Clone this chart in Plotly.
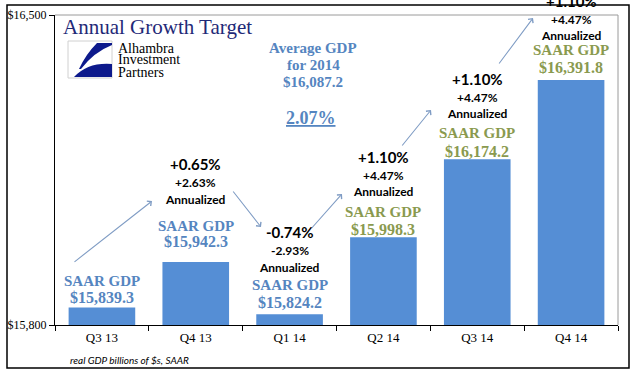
import plotly.graph_objects as go

# ---- data ----
quarters = ["Q3 13", "Q4 13", "Q1 14", "Q2 14", "Q3 14", "Q4 14"]
bar_values = [15839.3, 15942.3, 15824.2, 15998.3, 16174.2, 16353.0]   # bar heights as drawn
saar_labels = ["$15,839.3", "$15,942.3", "$15,824.2", "$15,998.3", "$16,174.2", "$16,391.8"]
qoq_change = [None, "+0.65%", "-0.74%", "+1.10%", "+1.10%", "+1.10%"]
annualized = [None, "+2.63%", "-2.93%", "+4.47%", "+4.47%", "+4.47%"]
y_ticks = [15800, 16500]
y_tick_labels = ["$15,800", "$16,500"]
avg_gdp_2014 = "$16,087.2"
avg_growth = "2.07%"

W, H = 640, 374
L, R, T, B = 55, 22, 15, 49
PW, PH = W - L - R, H - T - B


def px(x):
    return (x - L) / PW


def py(y):
    return (H - B - y) / PH


BLUE = "#5585c0"
GREEN = "#8a9a4f"
BAR = "#558ed5"
NAVY = "#1f2a78"
ARROW = "#7f9cc4"
SERIF = "Liberation Serif, Times New Roman, serif"
SANS = "Lato, Liberation Sans, sans-serif"

fig = go.Figure(go.Bar(x=quarters, y=bar_values, marker_color=BAR,
                       marker_line_width=0, hoverinfo="skip"))

ann = []


def text(x, y, s, size, color="black", font=SERIF, xref="paper", xanchor="center"):
    ann.append(dict(x=x, y=py(y), xref=xref, yref="paper", text=s, showarrow=False,
                    xanchor=xanchor, yanchor="middle",
                    font=dict(size=size, color=color, family=font)))


# label vertical positions (pixel rows) per quarter
label_rows = {
    0: dict(saar=281, val=297),
    1: dict(chg=164, ann=182, annz=199, saar=226, val=242),
    2: dict(chg=232, ann=250, annz=267, saar=285, val=302),
    3: dict(chg=157, ann=175, annz=191, saar=212, val=229),
    4: dict(chg=79, ann=97, annz=113, saar=133, val=151),
    5: dict(chg=1, ann=19, annz=35, saar=50, val=67),
}
for i, q in enumerate(quarters):
    r = label_rows[i]
    col = BLUE if i < 3 else GREEN
    if qoq_change[i]:
        text(q, r["chg"], "<b>" + qoq_change[i] + "</b>", 15, font=SANS, xref="x")
        text(q, r["ann"], "<b>" + annualized[i] + "</b>", 12, font=SANS, xref="x")
        text(q, r["annz"], "<b>Annualized</b>", 12, font=SANS, xref="x")
    text(q, r["saar"], "<b>SAAR GDP</b>", 15, color=col, xref="x")
    text(q, r["val"], "<b>" + saar_labels[i] + "</b>", 16, color=col, xref="x")

# title and average block
text(px(61), 27, "Annual Growth Target", 21, color=NAVY, xanchor="left")
text(px(313), 48, "<b>Average GDP</b>", 15, color=BLUE)
text(px(313), 65, "<b>for 2014</b>", 15, color=BLUE)
text(px(313), 82, "<b>" + avg_gdp_2014 + "</b>", 15, color=BLUE)
text(px(311), 118, "<b><u>" + avg_growth + "</u></b>", 18, color=BLUE)

# logo text
text(px(116), 48, "Alhambra", 14, xanchor="left")
text(px(116), 60, "Investment", 14, xanchor="left")
text(px(116), 72, "Partners", 14, xanchor="left")

# footnote
text(px(68), 360, "<i>real GDP billions of $s, SAAR</i>", 10, font=SANS, xanchor="left")

# arrows (tail -> head, pixel positions)
arrows = [((73, 263), (152, 201)), ((232, 190), (261, 227)), ((310, 230), (342, 194)),
          ((401, 147), (431, 110)), ((498, 65), (533, 18))]
for (tx, ty), (hx, hy) in arrows:
    ann.append(dict(x=px(hx), y=py(hy), xref="paper", yref="paper", ax=tx - hx, ay=ty - hy,
                    axref="pixel", ayref="pixel", text="", showarrow=True, arrowhead=4,
                    arrowsize=1.1, arrowwidth=1.1, arrowcolor=ARROW, standoff=0))

shapes = [
    # plot frame (top / right grey)
    dict(type="line", xref="paper", yref="paper", x0=0, x1=1, y0=1, y1=1,
         line=dict(color="#9a9a9a", width=1), layer="below"),
    dict(type="line", xref="paper", yref="paper", x0=1, x1=1, y0=0, y1=1,
         line=dict(color="#9a9a9a", width=1), layer="below"),
    # outer border
    dict(type="rect", xref="paper", yref="paper", x0=px(7), x1=px(629), y0=py(368), y1=py(5),
         line=dict(color="black", width=1.5), layer="above"),
    # logo box
    dict(type="rect", xref="paper", yref="paper", x0=px(68), x1=px(112), y0=py(78), y1=py(41),
         line=dict(color="#d0d0d0", width=1), fillcolor="white", layer="above"),
]


def svg_path(cmds):
    out = []
    for c in cmds:
        if isinstance(c, str):
            out.append(c)
        else:
            out.append(f"{px(c[0]):.5f},{py(c[1]):.5f}")
    return " ".join(out)


wedge = svg_path(["M", (97, 43), "L", (112, 43), "L", (112, 45), "Q", (94, 52), (81, 69),
                  "L", (79, 69), "Q", (86, 54), (97, 43), "Z"])
crescent = svg_path(["M", (74, 77), "Q", (88, 62), (112, 64), "L", (112, 77), "Z"])
for p in (wedge, crescent):
    shapes.append(dict(type="path", xref="paper", yref="paper", path=p,
                       fillcolor="#0d1a8c", line=dict(width=0), layer="above"))

fig.update_layout(
    width=W, height=H, margin=dict(l=L, r=R, t=T, b=B, autoexpand=False),
    paper_bgcolor="white", plot_bgcolor="white",
    showlegend=False, bargap=0.29,
    annotations=ann, shapes=shapes,
    xaxis=dict(type="category", showline=True, linecolor="black", linewidth=1,
               ticks="outside", tickson="boundaries", ticklen=5, tickcolor="black",
               tickfont=dict(family=SERIF, size=13, color="black"), showgrid=False,
               fixedrange=True, automargin=False),
    yaxis=dict(range=[15800, 16500], tickvals=y_ticks, ticktext=y_tick_labels,
               showline=True, linecolor="black", linewidth=1, ticks="outside", ticklen=5,
               tickcolor="black", tickfont=dict(family=SERIF, size=12, color="black"),
               showgrid=False, zeroline=False, fixedrange=True, automargin=False),
)

fig.write_html("out.html", config={"displayModeBar": False},
               post_script="document.body.style.margin='0px';"
                           "document.documentElement.style.overflow='hidden';")
